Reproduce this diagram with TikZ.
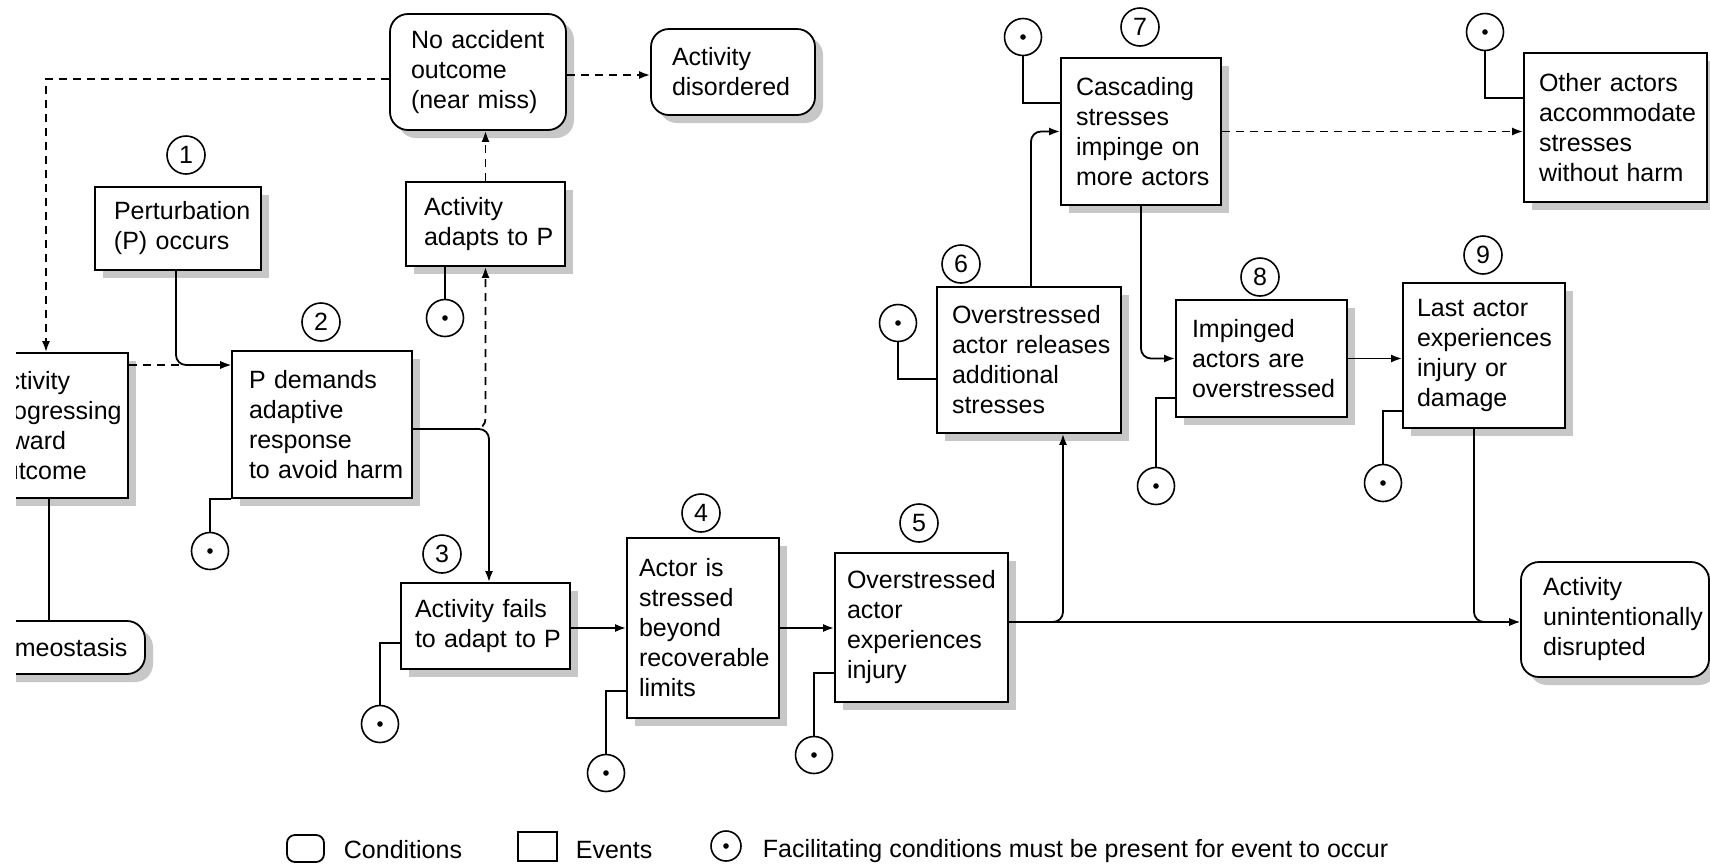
\documentclass[tikz,border=0pt]{standalone}
\usepackage{fontspec}
\setmainfont{Liberation Sans}
\usetikzlibrary{arrows.meta,shadows}
\newcommand\dgfont{\fontsize{12.5pt}{15pt}\selectfont}
\begin{document}
\begin{tikzpicture}[x=0.5pt,y=-0.5pt,
  line width=0.9pt,
  shd/.style={drop shadow={shadow xshift=4pt,shadow yshift=-4pt,fill=black!22,opacity=1,draw=none}},
  box/.style={draw,fill=white,line width=0.9pt,inner xsep=0pt,inner ysep=0pt,font=\dgfont,shd,
    execute at begin node={\leftskip=#1\rightskip=0pt plus 1fil\relax}},
  evt/.style={box=#1,rectangle},
  cond/.style={box=#1,rounded corners=9pt},
  num/.style={draw,circle,line width=0.8pt,minimum size=19pt,inner sep=0pt,font=\dgfont},
  fac/.style={draw,circle,line width=0.8pt,minimum size=18.5pt,inner sep=0pt,fill=white,
     path picture={\fill[black] (path picture bounding box.center) circle (1.4pt);}},
  arr/.style={-{Latex[length=5.5pt,width=4pt]}},
  dsh/.style={dash pattern=on 4pt off 3pt},
  lnk/.style={rounded corners=5pt},
  txt/.style={font=\dgfont,anchor=base west,inner sep=0pt}
]
\fill[white] (0,0) rectangle (1710,864);
\useasboundingbox (0,0) rectangle (1710,864);

% condition and event boxes
\node[cond=10.5pt,text width=88pt,minimum height=58pt] (noacc) at (478,72) {No accident\\outcome\\(near miss)};
\node[cond=10.5pt,text width=82pt,minimum height=43pt] (disord) at (733,72) {Activity\\disordered};
\node[evt=9.5pt,text width=83pt,minimum height=41.5pt] (perturb) at (178,228.5) {Perturbation\\(P) occurs};
\node[evt=9pt,text width=79.5pt,minimum height=42pt] (adapts) at (485.5,224) {Activity\\adapts to P};
\node[evt=8.5pt,text width=90pt,minimum height=73.5pt] (pdem) at (322,424.5) {P demands\\adaptive\\response\\to avoid harm};
\begin{scope}
\clip (16,0) rectangle (1710,864);
\node[evt=8.5pt,text width=77pt,minimum height=72.5pt] (progress) at (51,425.5) {Activity\\progressing\\toward\\outcome};
\node[cond=10pt,text width=89pt,minimum height=26.5pt] (homeo) at (56,647.5) {homeostasis};
\end{scope}
\node[evt=7pt,text width=84.5pt,minimum height=43pt] (fails) at (485.5,626) {Activity fails\\to adapt to P};
\node[evt=6pt,text width=76pt,minimum height=90pt] (actor) at (703,628) {Actor is\\stressed\\beyond\\recoverable\\limits};
\node[evt=6pt,text width=86.5pt,minimum height=74.5pt] (over5) at (921.5,627.5) {Overstressed\\actor\\experiences\\injury};
\node[evt=7.5pt,text width=92pt,minimum height=73pt] (rel6) at (1029,360) {Overstressed\\actor releases\\additional\\stresses};
\node[evt=7.5pt,text width=80pt,minimum height=73.5pt] (casc7) at (1141,131.5) {Cascading\\stresses\\impinge on\\more actors};
\node[evt=7.5pt,text width=91.5pt,minimum height=74.5pt] (other) at (1615.5,127.5) {Other actors\\accommodate\\stresses\\without harm};
\node[evt=8pt,text width=85.5pt,minimum height=58.5pt] (imp8) at (1261.5,358.5) {Impinged\\actors are\\overstressed};
\node[evt=7pt,text width=81pt,minimum height=72.5pt] (last9) at (1484,355.5) {Last actor\\experiences\\injury or\\damage};
\node[cond=11pt,text width=94pt,minimum height=57.5pt] (disrupt) at (1615,619.5) {Activity\\unintentionally\\disrupted};

% numbers
\node[num] (c1) at (186,155) {1};
\node[num] (c2) at (321,322) {2};
\node[num] (c3) at (442,554) {3};
\node[num] (c4) at (701,513) {4};
\node[num] (c5) at (919,523) {5};
\node[num] (c6) at (961,264) {6};
\node[num] (c7) at (1140,27) {7};
\node[num] (c8) at (1260,277) {8};
\node[num] (c9) at (1483,255) {9};

% facilitating conditions
\node[fac] (fa) at (445,318) {};
\node[fac] (f2) at (210,551) {};
\node[fac] (f3) at (380,724) {};
\node[fac] (f4) at (606,773) {};
\node[fac] (f5) at (814,755) {};
\node[fac] (f6) at (898,323) {};
\node[fac] (f7) at (1023,37) {};
\node[fac] (fo) at (1485,32) {};
\node[fac] (f8) at (1156,486) {};
\node[fac] (f9) at (1383,483) {};

\draw (fa.north) -- (fa.north |- adapts.south);
\draw (f2.north) |- (pdem.south west);
\draw (f3.north) |- ([yshift=-8.5pt]fails.west);
\draw (f4.north) |- ([yshift=-31.5pt]actor.west);
\draw (f5.north) |- ([yshift=-22.75pt]over5.west);
\draw (f6.south) |- ([yshift=-9.5pt]rel6.west);
\draw (f7.south) |- ([yshift=14.25pt]casc7.west);
\draw (fo.south) |- ([yshift=14.75pt]other.west);
\draw (f8.north) |- ([yshift=-19.75pt]imp8.west);
\draw (f9.north) |- ([yshift=-27.75pt]last9.west);

% connectors
\draw[dsh,arr] ([yshift=-3.5pt]noacc.west) -| ([xshift=-2.5pt]progress.north);
\draw[dsh,arr] ([yshift=-1.5pt]noacc.east) -- ([yshift=-1.5pt]disord.west);
\draw[dsh,arr] (adapts.north) -- (adapts.north |- noacc.south);
\draw[dsh,arr] ([yshift=30.25pt]progress.east) -- ([yshift=29.75pt]pdem.west);
\draw[arr,lnk] ([xshift=-1pt]perturb.south) |- ([yshift=29.75pt]pdem.west);
\draw[dsh,arr,lnk] ([yshift=-2.25pt]pdem.east) -| (adapts.south);
\draw[arr,lnk] ([yshift=-2.25pt]pdem.east) -| ([xshift=1.75pt]fails.north);
\draw ([xshift=-1pt]progress.south) -- ([xshift=-1pt]progress.south |- homeo.north);
\draw[arr] (fails.east |- actor.west) -- (actor.west);
\draw[arr] (actor.east) -- (actor.east -| over5.west);
\draw[arr] ([yshift=2.75pt]over5.east) -- ([yshift=2.75pt]over5.east -| disrupt.west);
\draw[arr,lnk] ([yshift=2.75pt]over5.east) -| ([xshift=17pt]rel6.south);
\draw[arr,lnk] ([xshift=1pt]rel6.north) |- (casc7.west);
\draw[dsh,arr] (casc7.east) -- (casc7.east -| other.west);
\draw[arr,lnk] (casc7.south) |- (imp8.west);
\draw[arr] (imp8.east) -- (imp8.east -| last9.west);
\draw[arr,lnk] ([xshift=-5pt]last9.south) |- ([yshift=-1.25pt]disrupt.west);

% legend
\node[draw,rounded corners=4pt,minimum width=18.5pt,minimum height=13.5pt,inner sep=0pt] (lc) at (305.5,848.5) {};
\node[txt] (lct) at (343,858) {Conditions};
\node[draw,minimum width=19.5pt,minimum height=14.5pt,inner sep=0pt] (le) at (537.5,846.5) {};
\node[txt] (let) at (575,858) {Events};
\node[fac,minimum size=15pt] (lf) at (726,846) {};
\node[txt] (lft) at (762,857) {Facilitating conditions must be present for event to occur};
\end{tikzpicture}
\end{document}
